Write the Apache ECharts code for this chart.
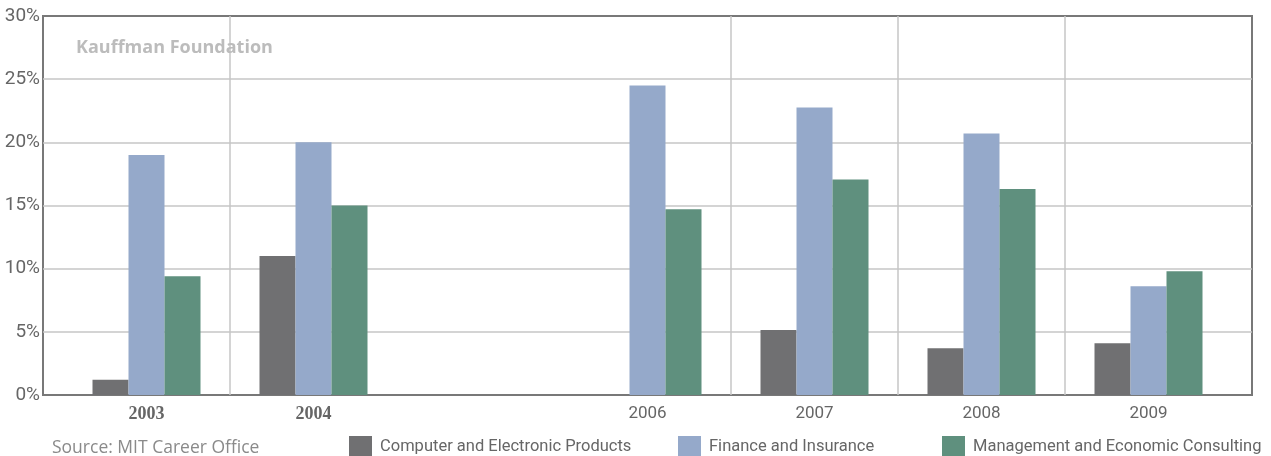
<!DOCTYPE html>
<html>
<head>
<meta charset="utf-8">
<script src="https://cdn.jsdelivr.net/npm/echarts@6/dist/echarts.min.js"></script>
<style>html,body{margin:0;padding:0;background:#fff}#c{width:1271px;height:456px}</style>
</head>
<body>
<div id="c"></div>
<script>
const categories = ['2003', '2004', '', '2006', '2007', '2008', '2009'];
const computerElectronics = [1.2, 11.0, null, null, 5.15, 3.7, 4.1];
const financeInsurance = [19.0, 20.0, null, 24.5, 22.75, 20.7, 8.6];
const managementConsulting = [9.4, 15.0, null, 14.7, 17.05, 16.3, 9.8];
const yTicks = [0, 5, 10, 15, 20, 25, 30];
const seriesNames = ['Computer and Electronic Products', 'Finance and Insurance', 'Management and Economic Consulting'];
const colors = ['#707072', '#95a9ca', '#5f907e'];

const narrow = "Roboto, 'Liberation Sans', sans-serif";
const grey = '#c6c6c6';
const chart = echarts.init(document.getElementById('c'));
const legendCommon = {
  orient: 'horizontal', top: 431, itemWidth: 23, itemHeight: 22, icon: 'rect',
  textStyle: { fontFamily: narrow, fontSize: 16.5, color: '#666', padding: [0, 0, 0, 3] },
  selectedMode: false
};
chart.setOption({
  animation: false,
  title: [
    { text: 'Kauffman Foundation', left: 71, top: 34,
      textStyle: { fontFamily: "'Open Sans'", fontWeight: 'bold', fontSize: 18, color: '#bcbcbc' } },
    { text: 'Source: MIT Career Office', left: 47, top: 434,
      textStyle: { fontFamily: "'Open Sans'", fontWeight: 'normal', fontSize: 17.5, color: '#8a8a8a' } }
  ],
  legend: [
    Object.assign({}, legendCommon, { left: 344, data: [seriesNames[0]] }),
    Object.assign({}, legendCommon, { left: 673, data: [seriesNames[1]] }),
    Object.assign({}, legendCommon, { left: 937, data: [seriesNames[2]] })
  ],
  grid: [
    { left: 43, right: 19, top: 16, bottom: 61, show: true, borderColor: '#787878', borderWidth: 2, backgroundColor: 'transparent' },
    { left: 63, right: 39, top: 16, bottom: 61 }
  ],
  xAxis: [
    { gridIndex: 0, type: 'category', data: categories, show: false },
    { gridIndex: 1, type: 'category', data: categories,
      axisLine: { show: false }, axisTick: { show: false },
      splitLine: { show: true, showMaxLine: false, interval: (i) => [1, 4, 5, 6].includes(i),
        lineStyle: { color: [grey, grey, grey, grey, 'rgba(0,0,0,0)'], width: 1.5 } },
      axisLabel: { margin: 10,
        formatter: (v) => (v === '2003' || v === '2004') ? '{b|' + v + '}' : '{c|' + v + '}',
        rich: {
          b: { fontFamily: "'Liberation Serif'", fontWeight: 'bold', fontSize: 18, color: '#666' },
          c: { fontFamily: narrow, fontSize: 17, color: '#666' }
        } } }
  ],
  yAxis: [
    { gridIndex: 0, type: 'value', min: 0, max: 30, interval: 5,
      axisLine: { show: false }, axisTick: { show: false },
      splitLine: { show: true, showMinLine: false, showMaxLine: false, lineStyle: { color: grey, width: 1.5 } },
      axisLabel: { margin: 3, formatter: (v) => yTicks.includes(v) ? v + '%' : '',
        fontFamily: narrow, fontSize: 19, color: '#666' } },
    { gridIndex: 1, type: 'value', min: 0, max: 30, interval: 5, show: false, splitLine: { show: false } }
  ],
  series: [
    { name: seriesNames[0], type: 'bar', xAxisIndex: 1, yAxisIndex: 1, data: computerElectronics,
      barWidth: 36, barGap: '0%', itemStyle: { color: colors[0] } },
    { name: seriesNames[1], type: 'bar', xAxisIndex: 1, yAxisIndex: 1, data: financeInsurance,
      barWidth: 36, barGap: '0%', itemStyle: { color: colors[1] } },
    { name: seriesNames[2], type: 'bar', xAxisIndex: 1, yAxisIndex: 1, data: managementConsulting,
      barWidth: 36, barGap: '0%', itemStyle: { color: colors[2] } }
  ]
});
</script>
</body>
</html>
